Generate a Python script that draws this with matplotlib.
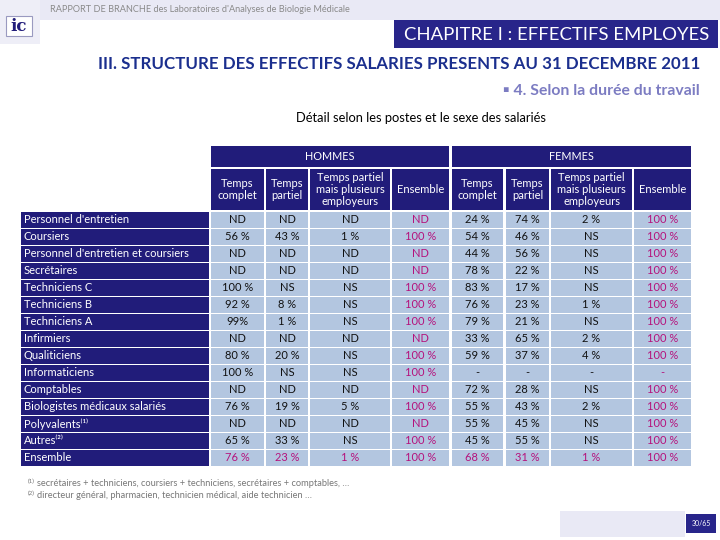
import matplotlib
matplotlib.use("Agg")
import matplotlib.pyplot as plt
from matplotlib.patches import Rectangle

plt.rcParams['font.family'] = ['Lato', 'DejaVu Sans']

# ---------------- data ----------------
categories = ["Personnel d'entretien", "Coursiers", "Personnel d'entretien et coursiers",
              "Secrétaires", "Techniciens C", "Techniciens B", "Techniciens A",
              "Infirmiers", "Qualiticiens", "Informaticiens", "Comptables",
              "Biologistes médicaux salariés", "Polyvalents⁽¹⁾", "Autres⁽²⁾", "Ensemble"]

col_headers = ["Temps\ncomplet", "Temps\npartiel", "Temps partiel\nmais plusieurs\nemployeurs", "Ensemble"]
groups = ["HOMMES", "FEMMES"]

h_complet = ["ND", "56 %", "ND", "ND", "100 %", "92 %", "99%", "ND", "80 %", "100 %", "ND", "76 %", "ND", "65 %", "76 %"]
h_partiel = ["ND", "43 %", "ND", "ND", "NS", "8 %", "1 %", "ND", "20 %", "NS", "ND", "19 %", "ND", "33 %", "23 %"]
h_plusieurs = ["ND", "1 %", "ND", "ND", "NS", "NS", "NS", "ND", "NS", "NS", "ND", "5 %", "ND", "NS", "1 %"]
h_ensemble = ["ND", "100 %", "ND", "ND", "100 %", "100 %", "100 %", "ND", "100 %", "100 %", "ND", "100 %", "ND", "100 %", "100 %"]

f_complet = ["24 %", "54 %", "44 %", "78 %", "83 %", "76 %", "79 %", "33 %", "59 %", "-", "72 %", "55 %", "55 %", "45 %", "68 %"]
f_partiel = ["74 %", "46 %", "56 %", "22 %", "17 %", "23 %", "21 %", "65 %", "37 %", "-", "28 %", "43 %", "45 %", "55 %", "31 %"]
f_plusieurs = ["2 %", "NS", "NS", "NS", "NS", "1 %", "NS", "2 %", "4 %", "-", "NS", "2 %", "NS", "NS", "1 %"]
f_ensemble = ["100 %", "100 %", "100 %", "100 %", "100 %", "100 %", "100 %", "100 %", "100 %", "-", "100 %", "100 %", "100 %", "100 %", "100 %"]

columns = [h_complet, h_partiel, h_plusieurs, h_ensemble,
           f_complet, f_partiel, f_plusieurs, f_ensemble]

footnotes = ["secrétaires + techniciens, coursiers + techniciens, secrétaires + comptables, …",
             "directeur général, pharmacien, technicien médical, aide technicien …"]

# ---------------- style / layout ----------------
NAVY = "#211C7A"
CELL = "#B3C6E0"
MAGENTA = "#B5127C"
LAV = "#E9E9F5"
TITLE_BLUE = "#1B2F8E"

col_edges = [(211, 264), (266, 308), (310, 390), (392, 449),
             (452, 503), (506, 549), (551, 632), (634, 691)]
label_x0, label_x1 = 21, 209
row_top0, row_pitch, row_h = 212, 17, 15.5
CELL_FS = 8.0
HEAD_FS = 8.0

fig = plt.figure(figsize=(7.2, 5.4), dpi=100)
ax = fig.add_axes([0, 0, 1, 1])
ax.set_xlim(0, 720)
ax.set_ylim(540, 0)
ax.axis('off')

# top banner
ax.add_patch(Rectangle((0, 0), 720, 20, color=LAV, lw=0))
ax.text(50, 9, "RAPPORT DE BRANCHE des Laboratoires d'Analyses de Biologie Médicale",
        fontsize=6.6, color="#8A8A8A", va='center', ha='left')
# logo (watermark drawn as a faint box instead of overlapping text)
ax.add_patch(Rectangle((0, 0), 40, 44, facecolor="#EEEEF7", lw=0))
ax.add_patch(Rectangle((6, 16), 26, 20, facecolor="white", edgecolor="#9A9AC0", lw=0.8))
ax.text(19, 26.5, "ic", fontsize=12, color=NAVY, fontweight='bold', ha='center', va='center',
        family=['DejaVu Serif'])

# chapter box
ax.add_patch(Rectangle((394, 20), 324, 28, color="#28258A", lw=0))
ax.text(557, 35, "CHAPITRE I : EFFECTIFS EMPLOYES", fontsize=13.3, color="white",
        ha='center', va='center')

ax.text(700, 64, "III. STRUCTURE DES EFFECTIFS SALARIES PRESENTS AU 31 DECEMBRE 2011",
        fontsize=12.2, color=TITLE_BLUE, fontweight='bold', ha='right', va='center')
ax.text(700, 91, "▪ 4. Selon la durée du travail", fontsize=11.3, color="#7C7CC2",
        fontweight='bold', ha='right', va='center')
ax.text(421, 118, "Détail selon les postes et le sexe des salariés", fontsize=9.3,
        color="black", ha='center', va='center')

# group headers
for g, name in enumerate(groups):
    x0 = col_edges[4 * g][0]
    x1 = col_edges[4 * g + 3][1]
    ax.add_patch(Rectangle((x0, 146), x1 - x0, 21, color=NAVY, lw=0))
    ax.text((x0 + x1) / 2, 156.5, name, fontsize=7.8, color="white", ha='center', va='center')

# column headers
for j, (x0, x1) in enumerate(col_edges):
    ax.add_patch(Rectangle((x0, 169), x1 - x0, 41, color=NAVY, lw=0))
    ax.text((x0 + x1) / 2, 189.5, col_headers[j % 4], fontsize=HEAD_FS, color="white",
            ha='center', va='center', linespacing=1.1)

# rows
n = len(categories)
for i, cat in enumerate(categories):
    top = row_top0 + row_pitch * i
    yc = top + row_h / 2
    ax.add_patch(Rectangle((label_x0, top), label_x1 - label_x0, row_h, color=NAVY, lw=0))
    ax.text(label_x0 + 3, yc, cat, fontsize=CELL_FS, color="white", ha='left', va='center')
    for j, (x0, x1) in enumerate(col_edges):
        ax.add_patch(Rectangle((x0, top), x1 - x0, row_h, color=CELL, lw=0))
        is_mag = (j % 4 == 3) or (i == n - 1)
        ax.text((x0 + x1) / 2, yc, columns[j][i], fontsize=CELL_FS,
                color=MAGENTA if is_mag else "#111111", ha='center', va='center')

# footnotes
for k, note in enumerate(footnotes):
    y = 483 + 12 * k
    ax.text(28, y - 2, "(%d)" % (k + 1), fontsize=4.5, color="#777777", ha='left', va='center')
    ax.text(37, y, note, fontsize=6.7, color="#777777", ha='left', va='center')

# footer
ax.add_patch(Rectangle((560, 511), 125, 26, color=LAV, lw=0))
ax.add_patch(Rectangle((686, 514), 30, 19, color="#28258A", lw=0))
ax.text(701, 523.5, "30/65", fontsize=5, color="white", ha='center', va='center')

fig.savefig("out.png", dpi=100)
